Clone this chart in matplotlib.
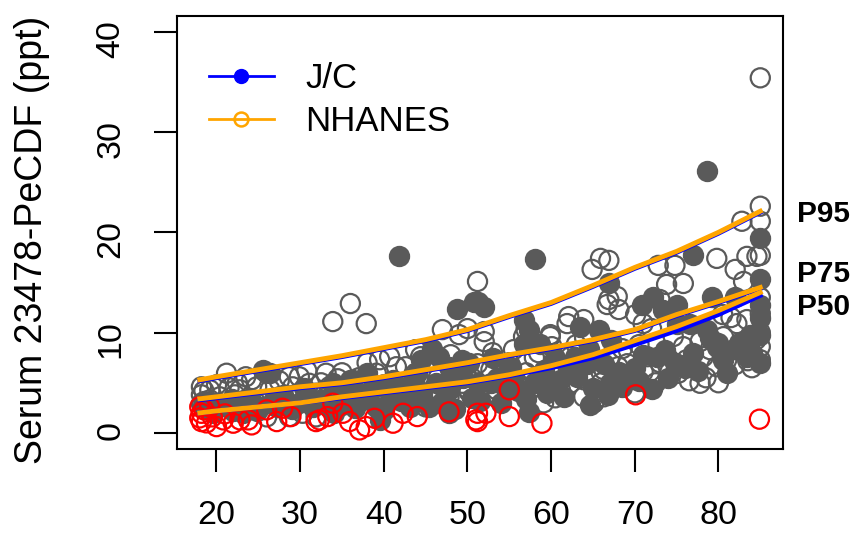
import matplotlib

matplotlib.use("Agg")

import matplotlib.pyplot as plt
from matplotlib.lines import Line2D

plt.rcParams["font.family"] = ["Liberation Sans", "DejaVu Sans"]

# J/C participants (filled grey)
JC_AGE = [41.8, 58.1, 78.6, 77.0, 85, 85, 85, 85, 66.9, 72.2, 70.9, 75.0, 79.2, 82.0,
          51.2, 52.0, 48.8, 50.8, 56.7, 57.3, 63.5, 65.7, 67.1, 56.7, 58.7, 73.6, 72.6,
          79.8, 80.6, 83.4, 64.3, 66.3, 68.1, 64.7, 57.3, 61.1, 59.1, 55.2, 55.6, 52.8,
          54.0, 51.2, 63.1, 69.5, 75.0, 73.4, 76.6, 78.6, 45.8, 46.6, 44.4, 49.4, 50.2,
          47.8, 36.3, 39.1, 41.1, 42.6, 43.8, 46.2, 47.8, 37.5, 39.1, 39.5, 43.1, 45.4,
          47.8, 47.8, 25.2, 21.2, 27.2, 29.9, 32.7, 35.1, 35.9, 33.9, 23.2, 19.6, 18.4,
          25.6, 26.4, 31.1, 53.5, 56.0, 58.0, 60.0, 62.0, 60.5, 65.0, 67.0, 70.0, 71.0,
          74.0, 76.0, 77.0, 79.0, 81.0, 82.5, 84.0, 85, 85, 50.5, 53.0, 48.5, 44.0, 41.0,
          38.0, 36.5, 34.0, 30.5, 28.0, 24.0, 22.0, 20.0, 18.5,
          19.5, 21.8, 24.8, 27.0, 29.0, 31.5, 33.0, 35.0, 37.0, 40.0, 42.0, 44.6, 46.8,
          48.5, 49.5, 51.5, 54.5, 57.0, 59.5, 61.5, 62.8, 64.5, 66.8, 68.5, 70.5, 72.0,
          74.8, 77.5, 80.0, 81.8, 83.8]
JC_VAL = [17.6, 17.3, 26.1, 17.7, 19.4, 15.3, 12.8, 9.8, 14.9, 13.6, 12.8, 12.8, 13.6, 13.6,
          13.1, 12.6, 12.4, 13.1, 11.3, 10.3, 10.6, 10.3, 9.3, 8.9, 8.9, 8.3, 7.6,
          8.6, 7.3, 7.6, 6.9, 6.9, 6.1, 2.8, 2.1, 5.3, 6.3, 6.6, 5.6, 4.95,
          3.0, 4.95, 5.6, 5.6, 10.9, 12.3, 10.9, 10.3, 8.4, 7.6, 7.3, 7.3, 6.95,
          6.6, 5.3, 4.6, 5.3, 4.6, 4.6, 4.95, 4.95, 3.6, 2.6, 1.3, 2.6, 2.6,
          1.96, 4.3, 2.6, 2.6, 2.6, 3.0, 3.3, 3.96, 5.3, 4.95, 1.96, 1.96, 2.6,
          6.3, 5.95, 3.6, 5.5, 4.2, 5.0, 4.5, 6.0, 7.5, 4.5, 5.0, 6.5, 7.8,
          5.5, 6.5, 8.0, 9.5, 6.0, 9.0, 8.0, 11.5, 7.0, 3.5, 7.5, 5.8, 6.0, 3.5,
          6.0, 2.5, 2.0, 4.5, 3.8, 3.5, 2.2, 3.0, 3.2,
          2.2, 3.4, 2.2, 3.4, 2.4, 2.6, 3.0, 2.8, 4.0, 2.3, 3.2, 3.8, 3.0,
          2.4, 5.5, 3.2, 4.6, 3.4, 4.0, 3.6, 7.6, 8.4, 3.8, 4.6, 5.2, 4.4,
          7.0, 6.2, 9.0, 8.4, 9.8]

# NHANES participants (open grey)
NH_AGE = [85, 36.0, 33.9, 37.9, 85, 82.8, 85, 79.8, 83.4, 84.6, 64.9, 65.9, 66.9, 72.8,
          74.8, 73.8, 75.8, 82.0, 83.0, 51.2, 66.9, 67.9, 66.7, 68.1, 70.1, 71.0, 72.0,
          73.0, 62.1, 63.9, 61.9, 57.0, 56.7, 52.0, 52.0, 59.9, 60.1, 74.2, 75.2, 77.8,
          71.8, 71.0, 76.2, 77.8, 80.6, 82.2, 83.4, 85, 85, 85, 83.4, 81.0, 79.8, 82.2,
          75.8, 78.2, 74.6, 71.5, 69.1, 67.1, 66.3, 63.9, 63.9, 66.3, 65.1, 62.3, 61.1,
          59.9, 59.1, 57.5, 56.0, 54.4, 52.8, 51.2, 62.3, 59.9, 68.0, 68.9, 47.0, 49.0,
          50.0, 21.2, 18.2, 18.2, 19.2, 19.2, 20.4, 22.2, 23.2, 24.2, 24.8, 26.0, 26.4,
          27.5, 28.7, 29.1, 29.9, 31.1, 31.9, 33.1, 33.5, 35.1, 30.3, 28.7, 39.5, 40.7,
          41.5, 39.1, 42.6, 43.8, 44.4, 43.8, 38.7, 39.9, 41.1, 43.1, 45.4, 45.0, 47.8,
          49.4, 50.2, 31.9, 26.0, 33.5, 36.7, 18.2, 20.0, 22.5, 35.0, 37.0, 46.5, 48.0,
          53.0, 55.0, 58.0, 60.5, 70.0, 72.5, 78.5, 80.0, 84.0, 85, 85, 85, 81.5,
          18.3, 18.5, 19.0, 20.5, 21.5, 22.8, 23.5, 25.0, 26.8, 27.5, 28.2, 30.0, 30.8,
          32.5, 33.0, 34.5, 36.0, 37.5, 38.0, 40.0, 42.0, 44.5, 46.0, 48.5, 50.5, 53.5,
          55.5, 57.0, 58.5, 60.0, 61.0, 63.0, 64.0, 66.0, 68.5, 70.5, 73.0, 76.5, 79.0,
          80.5, 82.0, 83.5, 84.5]
NH_VAL = [35.4, 12.9, 11.1, 10.9, 22.6, 21.1, 21.1, 17.4, 17.6, 17.6, 16.3, 17.4, 17.2, 16.7,
          16.7, 14.8, 14.9, 16.3, 15.1, 15.1, 13.3, 13.6, 12.8, 12.3, 11.8, 10.9, 10.4,
          13.3, 11.6, 11.3, 10.9, 10.3, 9.6, 10.1, 9.1, 9.8, 8.6, 6.1, 5.95, 4.95,
          6.1, 6.1, 7.3, 9.1, 9.6, 10.9, 11.3, 11.9, 8.6, 7.3, 8.9, 7.3, 6.6, 8.3,
          8.6, 7.6, 9.6, 7.6, 6.9, 7.6, 6.3, 5.3, 3.6, 3.6, 3.0, 4.95, 4.3,
          4.95, 3.0, 4.3, 4.95, 6.3, 6.3, 6.9, 7.6, 9.6, 6.6, 5.8, 10.3, 9.8,
          10.4, 5.95, 4.6, 3.8, 4.3, 3.3, 3.6, 3.8, 3.0, 5.3, 4.6, 5.95, 4.3,
          3.6, 5.6, 4.6, 5.6, 4.95, 3.96, 5.95, 4.6, 3.3, 1.96, 1.63, 7.3, 7.6,
          6.6, 5.95, 6.6, 8.3, 7.6, 5.95, 3.96, 3.3, 3.96, 3.6, 3.3, 2.6, 3.6,
          4.95, 4.1, 1.6, 1.6, 2.6, 4.6, 2.9, 4.8, 5.0, 6.0, 5.5, 5.5, 7.8,
          8.0, 7.0, 7.5, 3.5, 4.0, 5.0, 5.5, 5.0, 6.5, 10.0, 13.5, 17.7, 11.5,
          3.0, 4.2, 2.4, 2.8, 4.5, 4.3, 5.6, 3.2, 3.0, 5.2, 2.8, 3.6, 6.2,
          5.0, 3.5, 5.4, 3.8, 4.6, 7.0, 4.8, 4.3, 4.8, 6.3, 3.0, 5.5, 4.3,
          8.3, 6.0, 8.0, 5.8, 6.5, 8.8, 9.5, 5.0, 8.4, 8.8, 7.0, 5.2, 8.3,
          11.8, 6.8, 7.2, 9.3]

# values below detection (open red)
LOD_AGE = [18.2, 18.2, 19.2, 20.0, 20.8, 22.0, 22.8, 23.8, 24.2, 26.0, 27.2, 27.9, 28.9,
           31.9, 32.3, 33.9, 33.3, 35.1, 35.9, 37.1, 37.9, 38.9, 41.1, 42.3, 44.0, 47.8,
           51.0, 55.0, 51.2, 51.2, 52.2, 55.0, 58.9, 70.1, 84.9, 18.0, 18.5, 18.8, 19.5,
           21.0, 18.0]
LOD_VAL = [1.96, 1.13, 2.6, 0.63, 1.3, 0.97, 1.3, 1.3, 0.8, 2.3, 1.13, 2.46, 1.63,
           1.13, 1.3, 2.96, 1.63, 1.96, 1.13, 0.3, 0.63, 1.46, 0.97, 1.96, 1.63, 2.1,
           1.3, 4.3, 1.96, 1.13, 1.96, 1.63, 0.97, 3.8, 1.37, 1.5, 2.3, 1.0, 1.6,
           1.9, 2.6]

# percentile curves
CURVE_AGE = [18, 20, 25, 30, 35, 40, 45, 50, 55, 60, 65, 70, 75, 80, 85]
JC_P50 = [2.0, 2.2, 2.6, 3.0, 3.5, 4.0, 4.5, 5.0, 5.7, 6.5, 7.5, 8.8, 10.2, 11.8, 13.7]
JC_P75 = [3.3, 3.5, 4.0, 4.5, 4.9, 5.5, 6.2, 6.9, 7.7, 8.4, 9.2, 10.2, 11.7, 13.0, 14.4]
JC_P95 = [5.2, 5.5, 6.2, 6.9, 7.6, 8.4, 9.2, 10.2, 11.6, 12.9, 14.6, 16.4, 18.0, 19.9, 22.0]
NH_P50 = [2.0, 2.2, 2.6, 3.0, 3.6, 4.1, 4.6, 5.1, 5.8, 6.7, 7.8, 9.2, 10.6, 12.2, 14.0]
NH_P75 = [3.4, 3.6, 4.1, 4.6, 5.0, 5.6, 6.3, 7.0, 7.8, 8.5, 9.3, 10.3, 11.8, 13.1, 14.5]
NH_P95 = [5.3, 5.6, 6.3, 7.0, 7.7, 8.5, 9.3, 10.3, 11.7, 13.0, 14.7, 16.5, 18.1, 20.0, 22.1]

PCT_LABELS = ["P95", "P75", "P50"]
PCT_LABEL_Y = [21.8, 15.8, 12.6]

GREY = "#5a5a5a"

fig = plt.figure(figsize=(8.53, 5.39), dpi=100)
ax = fig.add_axes([0.2079, 0.167, 0.7097, 0.804])

ax.scatter(NH_AGE, NH_VAL, s=190, facecolors="none", edgecolors=GREY, linewidths=1.6, zorder=2)
ax.scatter(JC_AGE, JC_VAL, s=190, facecolors=GREY, edgecolors=GREY, linewidths=1.6, zorder=2)
ax.scatter(LOD_AGE, LOD_VAL, s=190, facecolors="none", edgecolors="red", linewidths=1.6, zorder=3)

for curve in (JC_P50, JC_P75, JC_P95):
    ax.plot(CURVE_AGE, curve, color="blue", lw=3.4, zorder=4)
for curve in (NH_P50, NH_P75, NH_P95):
    ax.plot(CURVE_AGE, curve, color="orange", lw=3.5, zorder=5)

for label, yv in zip(PCT_LABELS, PCT_LABEL_Y):
    ax.text(89.4, yv, label, fontsize=21.5, fontweight="bold", ha="left", va="center", clip_on=False)

ax.set_xlim(15.32, 87.68)
ax.set_ylim(-1.6, 41.6)
ax.set_xticks([20, 30, 40, 50, 60, 70, 80])
ax.set_yticks([0, 10, 20, 30, 40])
ax.tick_params(length=16.5, width=1.5, direction="out", pad=20, labelsize=24.5)
ax.tick_params(axis="y", labelrotation=90)
for spine in ax.spines.values():
    spine.set_linewidth(1.5)

ax.set_ylabel("Serum 23478-PeCDF (ppt)", fontsize=27)
ax.yaxis.set_label_coords(-0.24, 0.482)
ax.yaxis.label.set_verticalalignment("center")

handles = [
    Line2D([], [], color="blue", lw=2, marker="o", markersize=10, markerfacecolor="blue",
           markeredgecolor="blue"),
    Line2D([], [], color="orange", lw=2, marker="o", markersize=10, markerfacecolor="none",
           markeredgecolor="orange", markeredgewidth=1.8),
]
ax.legend(handles, ["J/C", "NHANES"], loc="upper left", bbox_to_anchor=(0.0, 0.965),
          frameon=False, fontsize=25, handlelength=1.87, handletextpad=0.92,
          labelspacing=0.3, borderaxespad=0.5)

fig.savefig("out.png", dpi=100)
